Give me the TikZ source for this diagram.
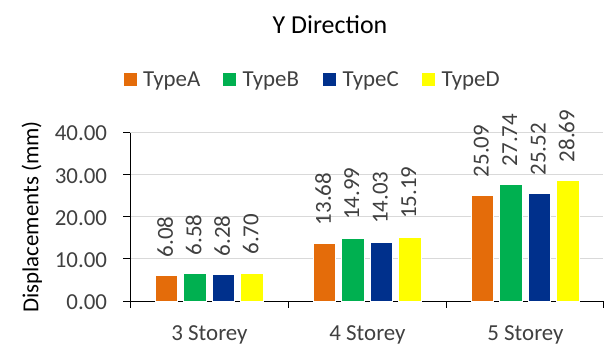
\documentclass[tikz,border=0pt]{standalone}
\usepackage{fontspec}
\setmainfont{Carlito}
\definecolor{cA}{HTML}{E46C0A}
\definecolor{cB}{HTML}{00B050}
\definecolor{cC}{HTML}{00308C}
\definecolor{cD}{HTML}{FFFF00}
\definecolor{gridc}{HTML}{D9D9D9}
\definecolor{txt}{HTML}{404040}
\begin{document}
\begin{tikzpicture}[x=1bp,y=-1bp,
  grid line/.style={draw=gridc,line width=1bp},
  axis line/.style={draw=black,line width=1bp},
  bar/.style={draw=white,line width=0.6bp},
  chartfont/.style={font=\fontsize{23}{23}\selectfont,text=txt,inner sep=0pt},
  ticklabel/.style={chartfont,anchor=east},
  catlabel/.style={chartfont,anchor=base},
  vallabel/.style={chartfont,rotate=90,anchor=west},
  legtext/.style={chartfont,anchor=base west},
  legbox/.style={minimum width=13bp,minimum height=13bp,inner sep=0pt}]
\useasboundingbox (0,0) rectangle (606,345);
% value v sits at y = 301 - 4.21 v
\def\ys{4.21}
% title
\node[font=\fontsize{26}{26}\selectfont,inner sep=0pt,anchor=base] (title) at (330,33.3) {Y Direction};
% legend
\node[legbox,fill=cA] (kA) at (130,79) {};
\node[legtext] (lA) at (143,86.5) {TypeA};
\node[legbox,fill=cB] (kB) at (229.5,79) {};
\node[legtext] (lB) at (242.5,86.5) {TypeB};
\node[legbox,fill=cC] (kC) at (329.5,79) {};
\node[legtext] (lC) at (342.5,86.5) {TypeC};
\node[legbox,fill=cD] (kD) at (428.5,79) {};
\node[legtext] (lD) at (441.5,86.5) {TypeD};
% grid and tick labels
\foreach \v in {10,20,30,40}{
  \draw[grid line] (130,301-\v*\ys) -- (603,301-\v*\ys);
}
\foreach \v/\t in {0/0.00,10/10.00,20/20.00,30/30.00,40/40.00}{
  \draw[axis line] (123,301-\v*\ys) -- (130,301-\v*\ys);
  \node[ticklabel] (t\v) at (107.3,302-\v*\ys) {\t};
}
% axes
\draw[axis line] (130,301-40*\ys) -- (130,307.5);
\draw[axis line] (130,301) -- (603,301);
\foreach \x in {288,446,603}{\draw[axis line] (\x,301) -- (\x,307.5);}
% bars and value labels
\foreach \c/\g/\name/\a/\b/\cc/\d in {209/1/3 Storey/6.08/6.58/6.28/6.70,
                                      367/2/4 Storey/13.68/14.99/14.03/15.19,
                                      525/3/5 Storey/25.09/27.74/25.52/28.69}{
  \foreach \k/\v/\o in {A/\a/-42.75,B/\b/-14.25,C/\cc/14.25,D/\d/42.75}{
    \filldraw[bar,fill=c\k] (\c+\o-11.25,301) rectangle (\c+\o+11.25,301-\v*\ys);
    \node[vallabel] (v\k\g) at (\c+\o-1,301-\v*\ys-18) {\v};
  }
  \node[catlabel] (cat\g) at (\c+0.5,340) {\name};
}
% axis title
\node[font=\fontsize{23}{23}\selectfont,text=black,rotate=90,inner sep=0pt,anchor=base] (ytitle) at (38.3,217) {Displacements (mm)};
\end{tikzpicture}
\end{document}
